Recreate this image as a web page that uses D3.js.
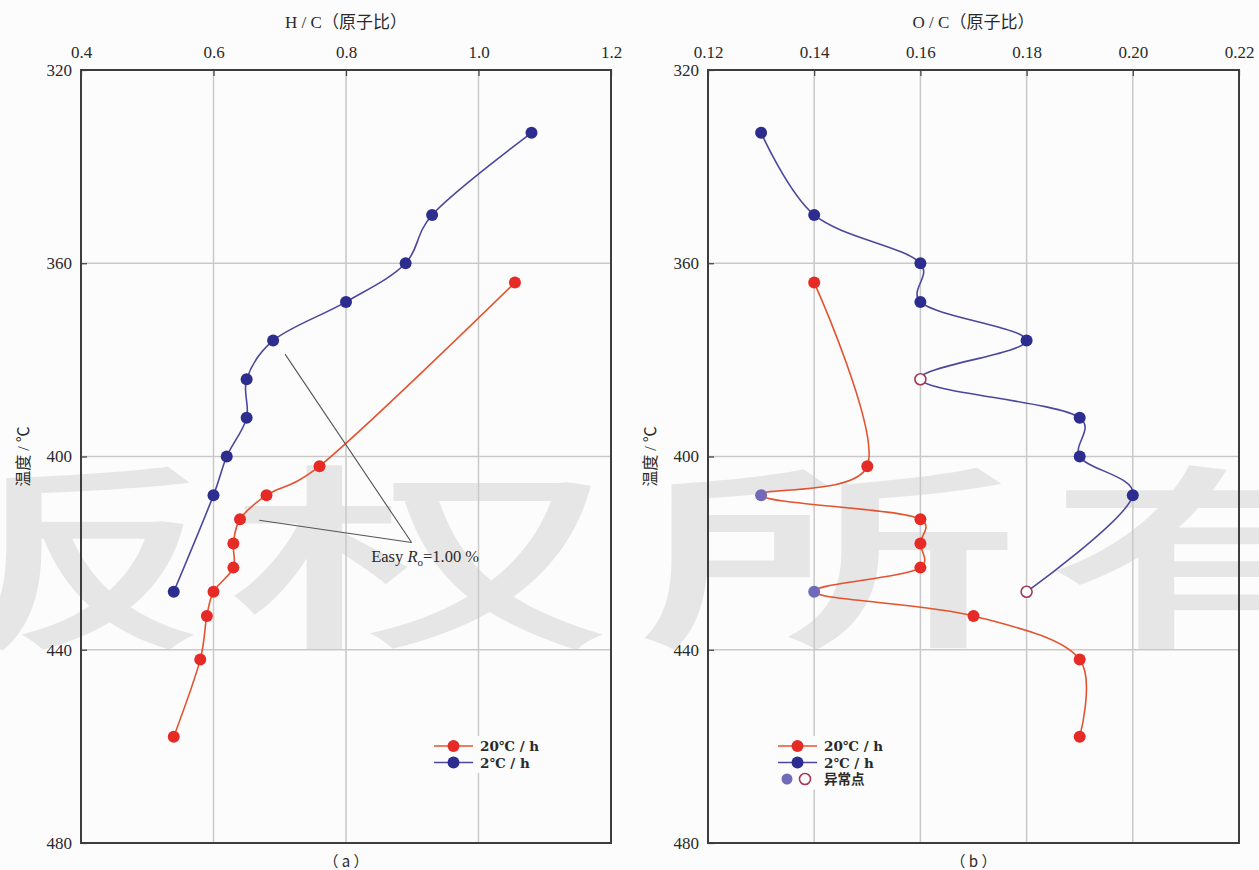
<!DOCTYPE html>
<html>
<head>
<meta charset="utf-8">
<script src="https://cdn.jsdelivr.net/npm/d3@7"></script>
<style>
  html, body { margin: 0; padding: 0; background: #fcfcfc; }
  svg { display: block; }
</style>
</head>
<body>
<svg id="chart" width="1259" height="870"></svg>
<script>
// Pyrolysis run at 2 ℃/h
const tempSlow = [333, 350, 360, 368, 376, 384, 392, 400, 408, 428];
const hcSlow   = [1.08, 0.93, 0.89, 0.80, 0.69, 0.65, 0.65, 0.62, 0.60, 0.54];
const ocSlow   = [0.13, 0.14, 0.16, 0.16, 0.18, 0.16, 0.19, 0.19, 0.20, 0.18];
// Pyrolysis run at 20 ℃/h
const tempFast = [364, 402, 408, 413, 418, 423, 428, 433, 442, 458];
const hcFast   = [1.055, 0.76, 0.68, 0.64, 0.63, 0.63, 0.60, 0.59, 0.58, 0.54];
const ocFast   = [0.14, 0.15, 0.13, 0.16, 0.16, 0.16, 0.14, 0.17, 0.19, 0.19];
// Abnormal O/C samples (by temperature)
const ocSlowAnomaly = [384, 428];
const ocFastAnomaly = [408, 428];

// Axis ticks
const tempTicks = [320, 360, 400, 440, 480];
const hcTicks = [0.4, 0.6, 0.8, 1.0, 1.2];
const hcTickLabels = ["0.4", "0.6", "0.8", "1.0", "1.2"];
const ocTicks = [0.12, 0.14, 0.16, 0.18, 0.20, 0.22];
const ocTickLabels = ["0.12", "0.14", "0.16", "0.18", "0.20", "0.22"];

const seriesNames = ["20℃ / h", "2℃ / h"];
const anomalyName = "异常点";
const watermarkChars = ["版", "权", "所", "有"];

const COL = {
  fastDot: "#e62b26", fastLine: "#e4532f",
  slowDot: "#2c2d8f", slowLine: "#4a479d",
  anomalyFill: "#6f6bb8", anomalyRing: "#a33a55",
  grid: "#c9c9c9", frame: "#3d3d3d", text: "#2a2a2a"
};
const SERIF = "'Liberation Serif', 'Noto Sans CJK SC', serif";

const svg = d3.select("#chart");

// Watermark behind everything
const wm = svg.append("g").attr("fill", "#e6e6e6")
  .style("font-family", "'Noto Sans CJK SC'").style("font-weight", 500);
const wmX = d3.scalePoint().domain(watermarkChars).range([14, 1236]);
watermarkChars.forEach(ch => {
  wm.append("text")
    .attr("transform", `translate(${wmX(ch)},546) scale(1.95,1)`)
    .attr("text-anchor", "middle").attr("dominant-baseline", "central")
    .attr("font-size", 198).text(ch);
});

const plotTop = 70, plotBottom = 843;
const y = d3.scaleLinear().domain([320, 480]).range([plotTop, plotBottom]);
const curve = d3.curveCatmullRom.alpha(0.25);

function panel(opt) {
  const x = d3.scaleLinear().domain(opt.domain).range(opt.range);
  const g = svg.append("g");
  const [x0, x1] = opt.range;

  // grid
  g.append("g").selectAll("line").data(opt.ticks.slice(1, -1)).join("line")
    .attr("x1", d => x(d)).attr("x2", d => x(d)).attr("y1", plotTop).attr("y2", plotBottom)
    .attr("stroke", COL.grid).attr("stroke-width", 1.5);
  g.append("g").selectAll("line").data(tempTicks.slice(1, -1)).join("line")
    .attr("x1", x0).attr("x2", x1).attr("y1", d => y(d)).attr("y2", d => y(d))
    .attr("stroke", COL.grid).attr("stroke-width", 1.5);

  // axes
  const ax = g.append("g").attr("transform", `translate(0,${plotTop})`)
    .call(d3.axisTop(x).tickValues(opt.ticks).tickFormat((d, i) => opt.labels[i])
      .tickSize(-6).tickPadding(12));
  const ay = g.append("g").attr("transform", `translate(${x0},0)`)
    .call(d3.axisLeft(y).tickValues(tempTicks).tickFormat(d3.format("d"))
      .tickSize(-6).tickPadding(9));
  [ax, ay].forEach(a => {
    a.select(".domain").remove();
    a.selectAll(".tick line").attr("stroke", COL.frame).attr("stroke-width", 1.2);
    a.selectAll("text").attr("fill", COL.text).style("font-family", SERIF).attr("font-size", 17);
  });

  // frame
  g.append("rect").attr("x", x0).attr("y", plotTop).attr("width", x1 - x0).attr("height", plotBottom - plotTop)
    .attr("fill", "none").attr("stroke", COL.frame).attr("stroke-width", 2);

  // titles
  g.append("text").attr("x", (x0 + x1) / 2).attr("y", 28).attr("text-anchor", "middle")
    .style("font-family", SERIF).attr("font-size", 17).attr("fill", COL.text).text(opt.title);
  g.append("text").attr("transform", `translate(${x0 - 58},${(plotTop + plotBottom) / 2}) rotate(-90)`)
    .attr("text-anchor", "middle").attr("dominant-baseline", "central")
    .style("font-family", SERIF).attr("font-size", 16).attr("fill", COL.text).text("温度 / ℃");
  g.append("text").attr("x", (x0 + x1) / 2).attr("y", 867).attr("text-anchor", "middle")
    .style("font-family", "'Noto Sans CJK SC', serif").attr("font-size", 15).attr("fill", COL.text).text(opt.tag);

  // series
  opt.series.forEach(s => {
    const pts = s.t.map((t, i) => [s.v[i], t]);
    g.append("path").attr("d", d3.line().x(d => x(d[0])).y(d => y(d[1])).curve(curve)(pts))
      .attr("fill", "none").attr("stroke", s.line).attr("stroke-width", 1.6);
    g.append("g").selectAll("circle").data(pts).join("circle")
      .attr("cx", d => x(d[0])).attr("cy", d => y(d[1]))
      .attr("r", d => (s.anomaly.includes(d[1]) && s.anomalyStyle === "ring") ? 5.5 : 6)
      .attr("fill", d => {
        if (!s.anomaly.includes(d[1])) return s.dot;
        return s.anomalyStyle === "ring" ? "#ffffff" : COL.anomalyFill;
      })
      .attr("stroke", d => (s.anomaly.includes(d[1]) && s.anomalyStyle === "ring") ? COL.anomalyRing : "none")
      .attr("stroke-width", 1.6);
  });

  // legend
  const lg = g.append("g").attr("transform", `translate(${opt.legend[0]},${opt.legend[1]})`);
  const rows = opt.legendRows;
  lg.append("rect").attr("x", -6).attr("y", -10).attr("width", opt.legendW).attr("height", rows.length * 16.5 + 4)
    .attr("fill", "#fcfcfc");
  rows.forEach((r, i) => {
    const ry = i * 16.5;
    if (r.kind === "series") {
      lg.append("line").attr("x1", 0).attr("x2", 39).attr("y1", ry).attr("y2", ry)
        .attr("stroke", r.line).attr("stroke-width", 1.6);
      lg.append("circle").attr("cx", 19.5).attr("cy", ry).attr("r", 6).attr("fill", r.dot);
    } else {
      lg.append("circle").attr("cx", 9).attr("cy", ry).attr("r", 5.5).attr("fill", COL.anomalyFill);
      lg.append("circle").attr("cx", 27).attr("cy", ry).attr("r", 5.5).attr("fill", "#ffffff")
        .attr("stroke", COL.anomalyRing).attr("stroke-width", 1.6);
    }
    lg.append("text").attr("x", 46).attr("y", ry).attr("dominant-baseline", "central")
      .style("font-family", "'DejaVu Serif', 'Noto Sans CJK SC', serif").attr("font-size", 13.5)
      .attr("font-weight", 600).attr("fill", COL.text).text(r.name);
  });
  return x;
}

const xHC = panel({
  domain: [0.4, 1.2], range: [81, 611], ticks: hcTicks, labels: hcTickLabels,
  title: "H / C（原子比）", tag: "（ a ）",
  series: [
    { t: tempFast, v: hcFast, dot: COL.fastDot, line: COL.fastLine, anomaly: [] },
    { t: tempSlow, v: hcSlow, dot: COL.slowDot, line: COL.slowLine, anomaly: [] }
  ],
  legend: [434, 746], legendW: 112,
  legendRows: [
    { kind: "series", name: seriesNames[0], dot: COL.fastDot, line: COL.fastLine },
    { kind: "series", name: seriesNames[1], dot: COL.slowDot, line: COL.slowLine }
  ]
});

panel({
  domain: [0.12, 0.22], range: [708, 1239], ticks: ocTicks, labels: ocTickLabels,
  title: "O / C（原子比）", tag: "（ b ）",
  series: [
    { t: tempFast, v: ocFast, dot: COL.fastDot, line: COL.fastLine, anomaly: ocFastAnomaly, anomalyStyle: "fill" },
    { t: tempSlow, v: ocSlow, dot: COL.slowDot, line: COL.slowLine, anomaly: ocSlowAnomaly, anomalyStyle: "ring" }
  ],
  legend: [778, 746], legendW: 102,
  legendRows: [
    { kind: "series", name: seriesNames[0], dot: COL.fastDot, line: COL.fastLine },
    { kind: "series", name: seriesNames[1], dot: COL.slowDot, line: COL.slowLine },
    { kind: "anomaly", name: anomalyName }
  ]
});

// Easy Ro annotation with two leader lines meeting at one apex
const apex = [0.899, 417.8];
const leaderEnds = [[0.708, 378.8], [0.669, 413.2]];
const ann = svg.append("g");
leaderEnds.forEach(p => {
  ann.append("line").attr("x1", xHC(p[0])).attr("y1", y(p[1]))
    .attr("x2", xHC(apex[0])).attr("y2", y(apex[1]))
    .attr("stroke", "#555").attr("stroke-width", 1.1);
});
const t = ann.append("text").attr("x", xHC(0.838)).attr("y", y(421.8))
  .style("font-family", SERIF).attr("font-size", 16.5).attr("fill", COL.text);
t.append("tspan").text("Easy ");
t.append("tspan").attr("font-style", "italic").text("R");
t.append("tspan").attr("font-size", 11).attr("dy", 4).text("o");
t.append("tspan").attr("dy", -4).text("=1.00 %");
</script>
</body>
</html>
